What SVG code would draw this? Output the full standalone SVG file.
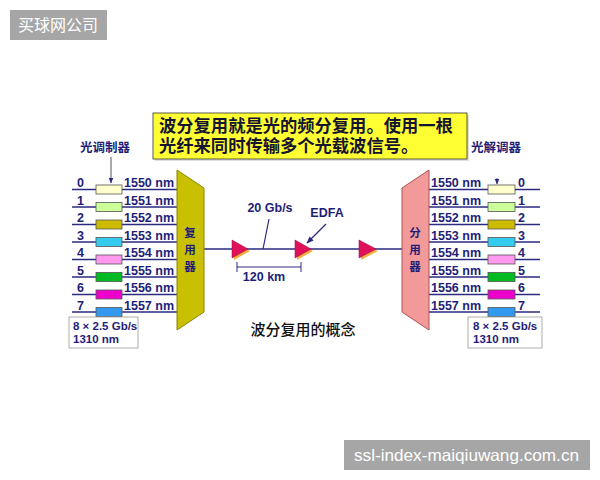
<svg xmlns="http://www.w3.org/2000/svg" width="600" height="480" viewBox="0 0 600 480">
<defs>
<style>
.t{font-family:"Liberation Sans","Noto Sans CJK SC",sans-serif;font-weight:bold;fill:#1e1e78}
.lab{font-size:12.5px}
.sm{font-size:11.5px}
.cn{font-family:"Noto Sans CJK SC",sans-serif;font-weight:bold;fill:#1e1e78}
.bn{font-family:"Liberation Sans","Noto Sans CJK SC",sans-serif;font-weight:bold;fill:#151530;font-size:17.3px}
.ln{stroke:#2a2a80;stroke-width:1.5;fill:none}
.box{stroke:#555;stroke-width:0.8}
.amp{fill:#e0105a;stroke:#a00040;stroke-width:0.5}
.ampsh{fill:#f5b040}
.wm{font-family:"Liberation Sans","Noto Sans CJK SC",sans-serif;fill:#fff}
</style>
<marker id="ah" viewBox="0 0 10 10" refX="9" refY="5" markerWidth="6" markerHeight="6" orient="auto">
<path d="M0,1 L10,5 L0,9 z" fill="#2a2a80"/>
</marker>
</defs>
<rect width="600" height="480" fill="#fff"/>

<g id="watermark-top">
<rect x="10" y="10" width="97" height="30" fill="#a6a6a6"/>
<text class="wm" x="58" y="31" font-size="16" text-anchor="middle">买球网公司</text>
</g>

<g id="banner">
<rect x="155" y="115" width="314" height="46" fill="#c8c8c8" opacity="0.6"/>
<rect x="153" y="113" width="314" height="46" fill="#ffff33" stroke="#333" stroke-width="0.8"/>
<text class="bn" x="159" y="131.5">波分复用就是光的频分复用。使用一根</text>
<text class="bn" x="159" y="151.5">光纤来同时传输多个光载波信号。</text>
</g>

<g id="connectors">
<line class="ln" x1="111" y1="157" x2="111" y2="183" marker-end="url(#ah)" style="stroke:#555;stroke-width:1"/>
<line class="ln" x1="497" y1="178" x2="497" y2="184" marker-end="url(#ah)" style="stroke:#555;stroke-width:1"/>
<g id="left-lines">
<line class="ln" x1="72" y1="189.5" x2="178" y2="189.5"/>
<line class="ln" x1="72" y1="207" x2="178" y2="207"/>
<line class="ln" x1="72" y1="224.5" x2="178" y2="224.5"/>
<line class="ln" x1="72" y1="242" x2="178" y2="242"/>
<line class="ln" x1="72" y1="259.5" x2="178" y2="259.5"/>
<line class="ln" x1="72" y1="277" x2="178" y2="277"/>
<line class="ln" x1="72" y1="294.5" x2="178" y2="294.5"/>
<line class="ln" x1="72" y1="312" x2="178" y2="312"/>
</g>
<g id="right-lines">
<line class="ln" x1="429" y1="189.5" x2="540" y2="189.5"/>
<line class="ln" x1="429" y1="207" x2="540" y2="207"/>
<line class="ln" x1="429" y1="224.5" x2="540" y2="224.5"/>
<line class="ln" x1="429" y1="242" x2="540" y2="242"/>
<line class="ln" x1="429" y1="259.5" x2="540" y2="259.5"/>
<line class="ln" x1="429" y1="277" x2="540" y2="277"/>
<line class="ln" x1="429" y1="294.5" x2="540" y2="294.5"/>
<line class="ln" x1="429" y1="312" x2="540" y2="312"/>
</g>
<line class="ln" x1="204" y1="249" x2="403" y2="249"/>
<line class="ln" x1="269" y1="219" x2="263" y2="249" style="stroke-width:1.2"/>
<line class="ln" x1="326" y1="224" x2="307" y2="243" marker-end="url(#ah)" style="stroke-width:1.2"/>
<g id="dimension">
<line class="ln" x1="237" y1="267" x2="301" y2="267" style="stroke-width:1"/>
<line class="ln" x1="237" y1="262" x2="237" y2="272" style="stroke-width:1"/>
<line class="ln" x1="301" y1="262" x2="301" y2="272" style="stroke-width:1"/>
</g>
</g>

<g id="mux">
<polygon points="177,170 204,188 204,312 177,330" fill="#c8c000" stroke="#8a8400" stroke-width="1"/>
<text class="cn" x="190" y="237" font-size="11.5" text-anchor="middle">复</text>
<text class="cn" x="190" y="254" font-size="11.5" text-anchor="middle">用</text>
<text class="cn" x="190" y="271" font-size="11.5" text-anchor="middle">器</text>
</g>

<g id="demux">
<polygon points="402,188 429,170 429,330 402,312" fill="#f29a9a" stroke="#b05050" stroke-width="1"/>
<text class="cn" x="415" y="237" font-size="11.5" text-anchor="middle">分</text>
<text class="cn" x="415" y="254" font-size="11.5" text-anchor="middle">用</text>
<text class="cn" x="415" y="271" font-size="11.5" text-anchor="middle">器</text>
</g>

<g id="modulator">
<text class="cn" x="105" y="152" font-size="12.5" text-anchor="middle">光调制器</text>
<rect class="box" x="96" y="185" width="26" height="9" fill="#ffffcc"/>
<rect class="box" x="96" y="202.5" width="26" height="9" fill="#ccff99"/>
<rect class="box" x="96" y="220" width="26" height="9" fill="#ccbb00"/>
<rect class="box" x="96" y="237.5" width="26" height="9" fill="#33ccee"/>
<rect class="box" x="96" y="255" width="26" height="9" fill="#ff99ee"/>
<rect class="box" x="96" y="272.5" width="26" height="9" fill="#00bb22"/>
<rect class="box" x="96" y="290" width="26" height="9" fill="#ee00cc"/>
<rect class="box" x="96" y="307.5" width="26" height="9" fill="#3399ee"/>
<g class="t lab">
<text x="77" y="187">0</text><text x="77" y="204.5">1</text><text x="77" y="222">2</text><text x="77" y="239.5">3</text>
<text x="77" y="257">4</text><text x="77" y="274.5">5</text><text x="77" y="292">6</text><text x="77" y="309.5">7</text>
<text x="124" y="187">1550 nm</text><text x="124" y="204.5">1551 nm</text><text x="124" y="222">1552 nm</text><text x="124" y="239.5">1553 nm</text>
<text x="124" y="257">1554 nm</text><text x="124" y="274.5">1555 nm</text><text x="124" y="292">1556 nm</text><text x="124" y="309.5">1557 nm</text>
</g>
<rect x="69" y="317" width="69" height="31" fill="#fff" stroke="#999" stroke-width="0.8"/>
<text class="t sm" x="73" y="330">8 × 2.5 Gb/s</text>
<text class="t sm" x="73" y="343">1310 nm</text>
</g>

<g id="demodulator">
<text class="cn" x="496" y="152" font-size="12.5" text-anchor="middle">光解调器</text>
<rect class="box" x="488" y="185" width="27" height="9" fill="#ffffcc"/>
<rect class="box" x="488" y="202.5" width="27" height="9" fill="#ccff99"/>
<rect class="box" x="488" y="220" width="27" height="9" fill="#ccbb00"/>
<rect class="box" x="488" y="237.5" width="27" height="9" fill="#33ccee"/>
<rect class="box" x="488" y="255" width="27" height="9" fill="#ff99ee"/>
<rect class="box" x="488" y="272.5" width="27" height="9" fill="#00bb22"/>
<rect class="box" x="488" y="290" width="27" height="9" fill="#ee00cc"/>
<rect class="box" x="488" y="307.5" width="27" height="9" fill="#3399ee"/>
<g class="t lab">
<text x="431" y="187">1550 nm</text><text x="431" y="204.5">1551 nm</text><text x="431" y="222">1552 nm</text><text x="431" y="239.5">1553 nm</text>
<text x="431" y="257">1554 nm</text><text x="431" y="274.5">1555 nm</text><text x="431" y="292">1556 nm</text><text x="431" y="309.5">1557 nm</text>
<text x="518" y="187">0</text><text x="518" y="204.5">1</text><text x="518" y="222">2</text><text x="518" y="239.5">3</text>
<text x="518" y="257">4</text><text x="518" y="274.5">5</text><text x="518" y="292">6</text><text x="518" y="309.5">7</text>
</g>
<rect x="468" y="317" width="74" height="31" fill="#fff" stroke="#999" stroke-width="0.8"/>
<text class="t sm" x="473" y="330">8 × 2.5 Gb/s</text>
<text class="t sm" x="473" y="343">1310 nm</text>
</g>

<g id="amp1">
<polygon class="ampsh" points="234,242 234,260 250,251"/>
<polygon class="amp" points="232,240 232,258 248,249"/>
</g>
<g id="amp2">
<polygon class="ampsh" points="297,242 297,260 313,251"/>
<polygon class="amp" points="295,240 295,258 311,249"/>
</g>
<g id="amp3">
<polygon class="ampsh" points="361,242 361,260 378,251"/>
<polygon class="amp" points="359,240 359,258 376,249"/>
</g>

<g id="labels">
<text class="t lab" x="270" y="212" text-anchor="middle">20 Gb/s</text>
<text class="t lab" x="327" y="217" text-anchor="middle">EDFA</text>
<text class="t lab" x="264" y="281" text-anchor="middle">120 km</text>
<text x="303" y="335" font-family="Noto Sans CJK SC, sans-serif" font-size="15" font-weight="500" fill="#111" text-anchor="middle">波分复用的概念</text>
</g>

<g id="watermark-bottom">
<rect x="344" y="440" width="246" height="30" fill="#a6a6a6"/>
<text class="wm" x="354" y="461" font-size="16.5" textLength="225" lengthAdjust="spacingAndGlyphs">ssl-index-maiqiuwang.com.cn</text>
</g>
</svg>
